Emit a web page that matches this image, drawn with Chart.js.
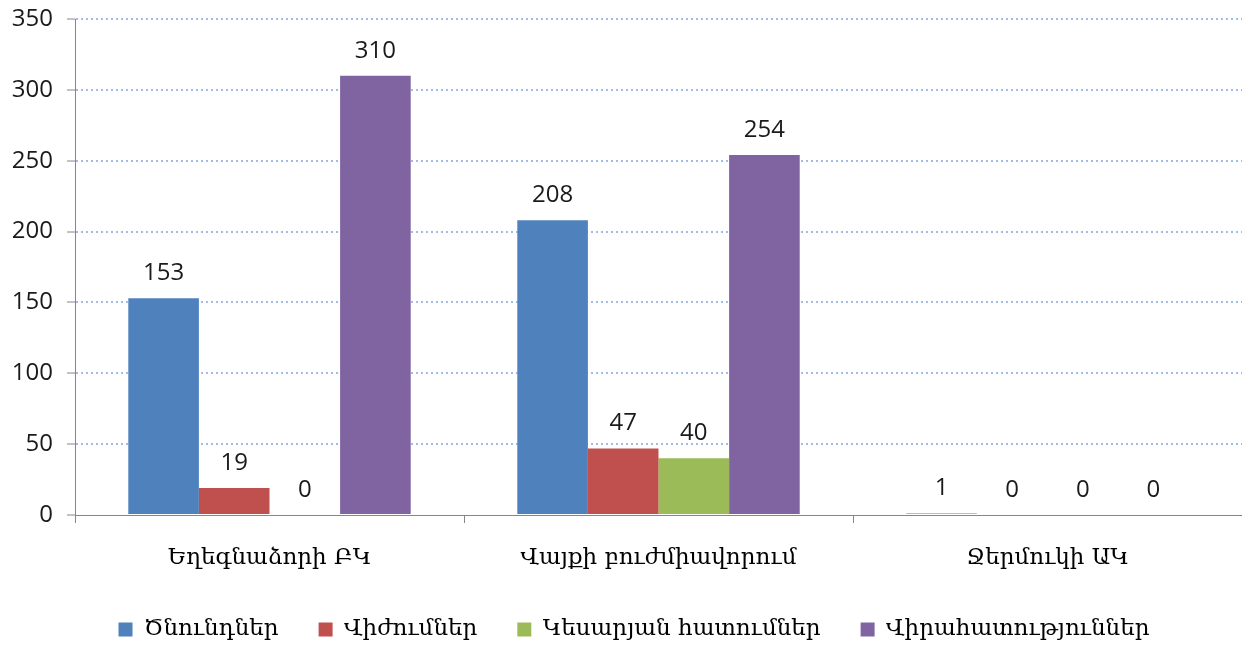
<!DOCTYPE html>
<html>
<head>
<meta charset="utf-8">
<script src="https://cdn.jsdelivr.net/npm/chart.js@4/dist/chart.umd.min.js"></script>
<style>
html,body{margin:0;padding:0;background:#fff;}
#wrap{width:1242px;height:647px;position:relative;}
</style>
</head>
<body>
<div id="wrap"><canvas id="c"></canvas></div>
<script>
const categories = ["Եղեգնաձորի ԲԿ", "Վայքի բուժմիավորում", "Ջերմուկի ԱԿ"];
const births = [153, 208, 1];
const abortions = [19, 47, 0];
const cesareans = [0, 40, 0];
const surgeries = [310, 254, 0];
const seriesNames = ["Ծնունդներ", "Վիժումներ", "Կեսարյան հատումներ", "Վիրահատություններ"];
const yTicks = [0, 50, 100, 150, 200, 250, 300, 350];

const numFont = {family: "'Open Sans', sans-serif", size: 24};
const armFont = {family: "'DejaVu Serif', serif", size: 23};

const valueLabels = {
  id: 'valueLabels',
  afterLayout(chart) {
    if (chart.legend) { chart.legend.left += 12; chart.legend.right += 12; }
  },
  afterDatasetsDraw(chart) {
    const ctx = chart.ctx;
    ctx.save();
    ctx.font = numFont.size + 'px ' + numFont.family;
    ctx.fillStyle = '#1a1a1a';
    ctx.textAlign = 'center';
    ctx.textBaseline = 'middle';
    chart.data.datasets.forEach((ds, i) => {
      const meta = chart.getDatasetMeta(i);
      meta.data.forEach((el, j) => {
        ctx.fillText(String(ds.data[j]), el.x, el.y - 25);
      });
    });
    ctx.restore();
  }
};

new Chart(document.getElementById('c'), {
  type: 'bar',
  data: {
    labels: categories,
    datasets: [
      {label: seriesNames[0], data: births, backgroundColor: '#4F81BD'},
      {label: seriesNames[1], data: abortions, backgroundColor: '#C0504D'},
      {label: seriesNames[2], data: cesareans, backgroundColor: '#9BBB59'},
      {label: seriesNames[3], data: surgeries, backgroundColor: '#8064A2'}
    ]
  },
  options: {
    responsive: true,
    maintainAspectRatio: false,
    animation: false,
    datasets: {bar: {categoryPercentage: 0.726, barPercentage: 1.0}},
    layout: {padding: {left: 0, right: -2, top: 19, bottom: -4}},
    plugins: {
      legend: {
        position: 'bottom',
        labels: {font: armFont, color: '#000', boxWidth: 14, boxHeight: 14, padding: 40}
      },
      tooltip: {enabled: false}
    },
    scales: {
      x: {
        afterFit(scale) { scale.height = 63; },
        grid: {offset: true, drawOnChartArea: false, tickLength: 8, tickColor: '#868686', color: '#868686'},
        border: {color: '#868686', width: 1},
        ticks: {font: armFont, color: '#000', padding: 21}
      },
      y: {
        min: 0, max: 350,
        afterBuildTicks(scale) { scale.ticks = yTicks.map(v => ({value: v})); },
        afterFit(scale) { scale.paddingTop = 0; scale.paddingBottom = 0; scale.width = 75; },
        grid: {
          color: (c) => c.tick && c.tick.value === 0 ? 'rgba(0,0,0,0)' : 'rgba(150,180,230,0.9)',
          lineWidth: 2,
          tickLength: 8,
          tickColor: '#868686',
          tickWidth: 1
        },
        border: {color: '#868686', width: 1, dash: [2, 3]},
        ticks: {font: numFont, color: '#1a1a1a', padding: 14}
      }
    }
  },
  plugins: [valueLabels]
});
</script>
</body>
</html>
